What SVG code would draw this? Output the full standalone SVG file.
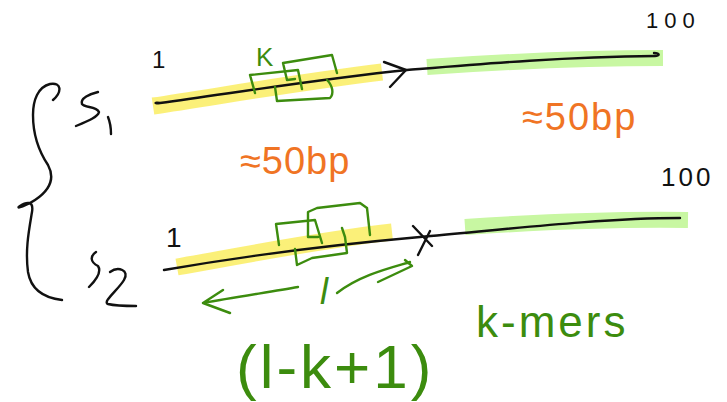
<svg xmlns="http://www.w3.org/2000/svg" width="727" height="402" viewBox="0 0 727 402">
<style>
.ink{fill:none;stroke:#111;stroke-width:2.4;stroke-linecap:round;stroke-linejoin:round}
.g{fill:none;stroke:#3c8c0e;stroke-width:2.4;stroke-linecap:round;stroke-linejoin:round}
.yel{fill:none;stroke:#fbee6a;stroke-width:17;stroke-linecap:butt;opacity:0.9}
.grn{fill:none;stroke:#c8f7a2;stroke-width:16;stroke-linecap:butt}
.tb{font-family:"Liberation Sans",Arial,sans-serif;fill:#111}
.tg{font-family:"Liberation Sans",Arial,sans-serif;fill:#3c8c0e}
.to{font-family:"Liberation Sans",Arial,sans-serif;fill:#f07424}
</style>
<rect width="727" height="402" fill="#fff"/>
<g id="highlights">
<path class="yel" d="M153,106 C220,96 300,82 382,72"/>
<path class="grn" d="M427,67 C500,62 580,58 663,58"/>
<path class="yel" d="M177,267 C250,254 320,240 392,232"/>
<path class="grn" d="M465,227 C540,222 620,219 688,220"/>
</g>
<g id="brace">
<path class="ink" d="M53,100 C62,92 62,82 50,84 C38,87 33,100 33,115 C33,135 38,150 48,165 C55,178 50,190 35,200 C28,205 14,210 20,206 C26,202 34,200 32,212 C29,230 25,250 28,272 C31,290 45,298 62,300"/>
</g>
<g id="S1">
<path class="ink" d="M98,92 C90,94 80,98 82,104 C85,108 96,106 99,112 C98,117 88,121 76,126"/>
<path class="ink" d="M108,117 C110,122 111,128 111,134"/>
</g>
<g id="S2">
<path class="ink" d="M96,252 C90,256 90,262 98,266 C102,272 96,280 89,287"/>
<path class="ink" d="M110,272 C118,266 130,270 124,280 C118,290 102,302 108,304 C116,306 128,306 136,306"/>
</g>
<g id="seq1">
<path class="ink" d="M160,103 C154,102 154,104 160,103 C240,92 320,79 407,70 C480,64 560,57 655,56 C660,56 660,53 654,53"/>
<path class="ink" d="M384,62 L406,70 L390,87"/>
<text class="tb" x="152" y="68" font-size="24">1</text>
<text class="tb" x="646" y="28" font-size="22" letter-spacing="6">100</text>
</g>
<g id="seq2">
<path class="ink" d="M164,270 C250,255 330,245 420,237 C500,230 600,218 680,218"/>
<path class="ink" d="M413,226 L432,246 M418,255 L430,231"/>
<text class="tb" x="166" y="247" font-size="28">1</text>
<text class="tb" x="661" y="186" font-size="26" letter-spacing="3">100</text>
</g>
<g id="kmers1">
<path class="g" d="M255,93 L250,75 L298,70 L302,89"/>
<path class="g" d="M287,80 L283,63 L332,55 L337,73 M287,80 L295,79"/>
<path class="g" d="M275,87 L277,101 L330,98 C334,94 333,86 327,80"/>
<text class="tg" x="256" y="66" font-size="26">K</text>
</g>
<g id="kmers2">
<path class="g" d="M279,245 L276,224 L315,220 L322,243"/>
<path class="g" d="M308,237 L308,212 L317,208 L360,203 L367,208 L370,235 M309,237 L318,237"/>
<path class="g" d="M295,249 L297,265 L312,258 L347,253 L345,237 L342,228"/>
</g>
<g id="labels">
<text class="to" x="240" y="174" font-size="38" letter-spacing="1">≈50bp</text>
<text class="to" x="522" y="130" font-size="38" letter-spacing="2">≈50bp</text>
<path class="g" d="M223,290 L203,303 L230,313 M203,303 C235,297 270,292 298,287"/>
<path class="g" d="M337,293 C360,275 390,268 410,262 M378,282 L412,266 L405,260"/>
<text class="tg" x="320" y="304" font-size="36" font-style="italic">l</text>
<text class="tg" x="236" y="388" font-size="62" letter-spacing="3">(l-k+1)</text>
<text class="tg" x="476" y="337" font-size="44" letter-spacing="3">k-mers</text>
</g>
</svg>
